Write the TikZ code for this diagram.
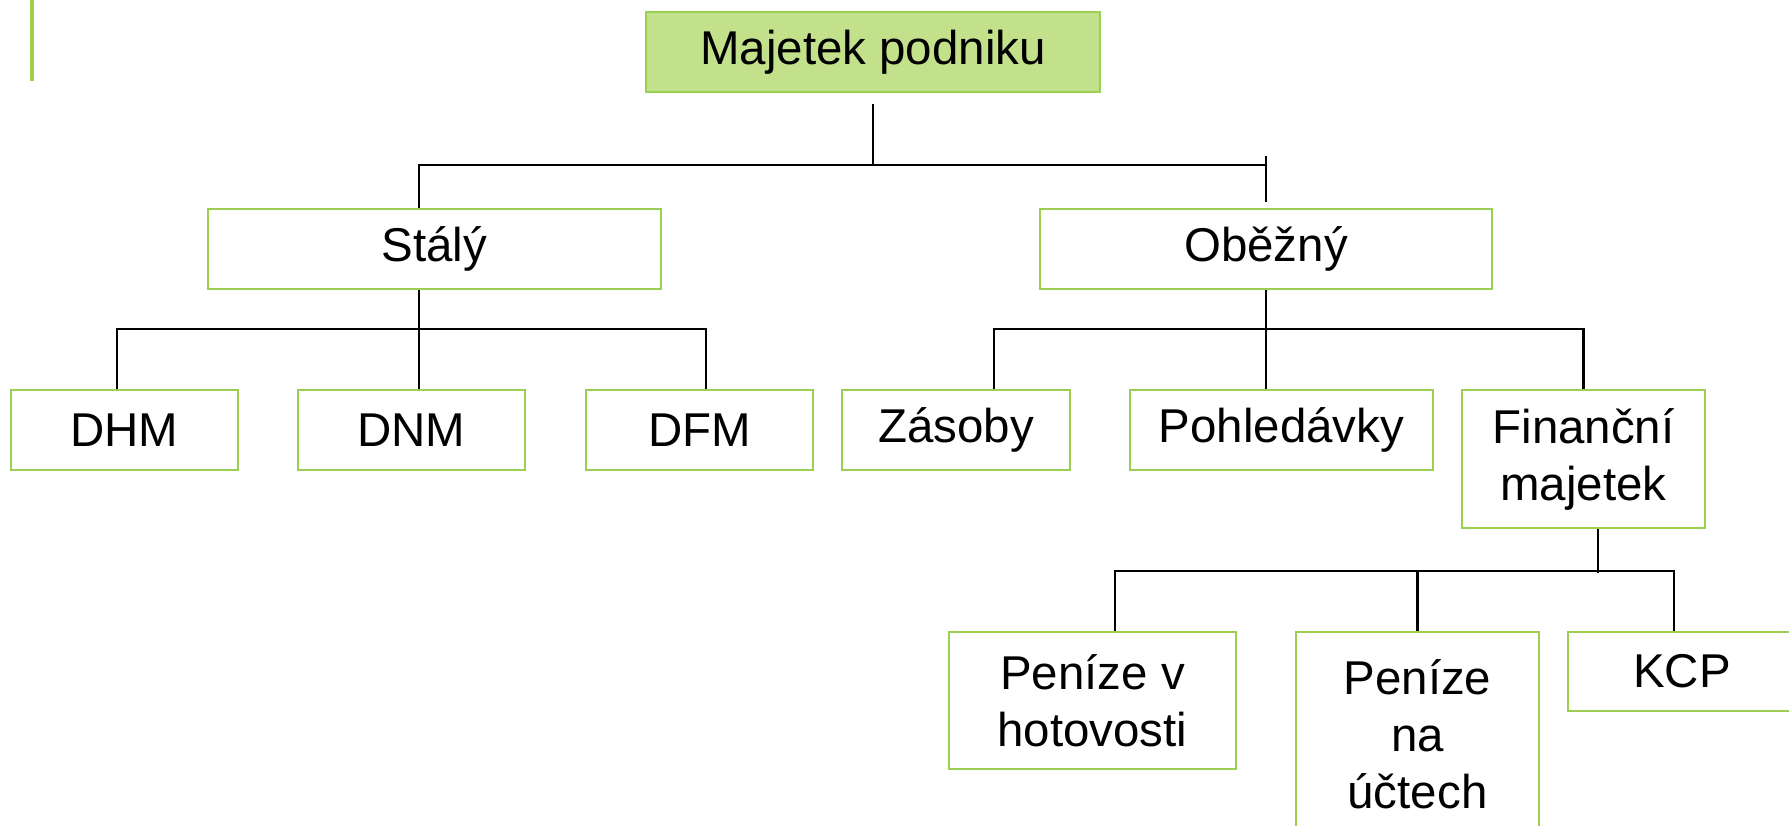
\documentclass[tikz,border=0pt]{standalone}
\usepackage{fontspec}
\setmainfont{Liberation Sans}
\usepackage{xcolor}
\usepackage{tikz}
\usetikzlibrary{positioning}

\definecolor{boxline}{RGB}{155,207,82}
\definecolor{boxfill}{RGB}{195,224,139}

\begin{document}
\begin{tikzpicture}[font=\fontsize{13.5}{16.2}\selectfont]

% Define styles for the nodes
\tikzstyle{item} = [rectangle, draw=boxline, line width=0.7pt, fill=white, inner sep=0pt, minimum height=0.8cm, minimum width=2.27cm, align=center]
\tikzstyle{head} = [item, fill=boxfill, minimum width=4.54cm]
\tikzstyle{link} = [draw=black, line width=0.6pt]

\useasboundingbox (0,0) rectangle (17.89,-8.25);
\clip (0,0) rectangle (17.89,-8.25);

% Side bar
\draw[boxline, line width=1.2pt] (0.32,0) -- (0.32,-0.81);

% Nodes
\node (root) [head] at (8.73,-0.52) {Majetek podniku};
\node (stal) [item, minimum width=4.53cm] at (4.345,-2.49) {Stálý};
\node (obez) [item, minimum width=4.52cm] at (12.66,-2.49) {Oběžný};
\node (dhm) [item] at (1.245,-4.30) {DHM};
\node (dnm) [item] at (4.115,-4.30) {DNM};
\node (dfm) [item] at (6.995,-4.30) {DFM};
\node (zas) [item, minimum width=2.28cm] at (9.56,-4.30) {Zásoby};
\node (pohl) [item, minimum width=3.03cm] at (12.815,-4.30) {Pohledávky};
\node (fin) [item, minimum width=2.43cm, minimum height=1.38cm] at (15.835,-4.59) {Finanční\\majetek};
\node (hot) [item, minimum width=2.87cm, minimum height=1.37cm] at (10.925,-7.005) {Peníze v\\hotovosti};
\node (uct) [item, minimum width=2.43cm, minimum height=2.04cm] at (14.175,-7.34) {Peníze\\na\\účtech};
\node (kcp) [item, minimum width=2.28cm, minimum height=0.79cm] at (16.82,-6.715) {KCP};

% Connectors
\coordinate (rj) at ([yshift=-0.72cm]root.south);
\draw[link] ([yshift=-0.11cm]root.south) -- (rj);
\draw[link] ([xshift=-0.155cm]stal.north) |- (rj -| obez.north);
\draw[link] ([yshift=0.06cm]obez.north) -- ++(0,0.46);

\draw[link] ([xshift=-0.075cm]dhm.north) -- ++(0,0.6) -| ([xshift=0.065cm]dfm.north);
\draw[link] ([xshift=-0.155cm]stal.south) -- ([xshift=0.075cm]dnm.north);

\draw[link] ([xshift=0.38cm]zas.north) -- ++(0,0.6) -| (fin.north);
\draw[link] (obez.south) -- ([xshift=-0.155cm]pohl.north);

\draw[link] ([xshift=0.225cm]hot.north) -- ++(0,0.6) -| ([xshift=-0.08cm]kcp.north);
\draw[link] ([xshift=0.145cm]fin.south) -- ++(0,-0.44);
\draw[link] (uct.north) -- ++(0,0.6);

\end{tikzpicture}
\end{document}
